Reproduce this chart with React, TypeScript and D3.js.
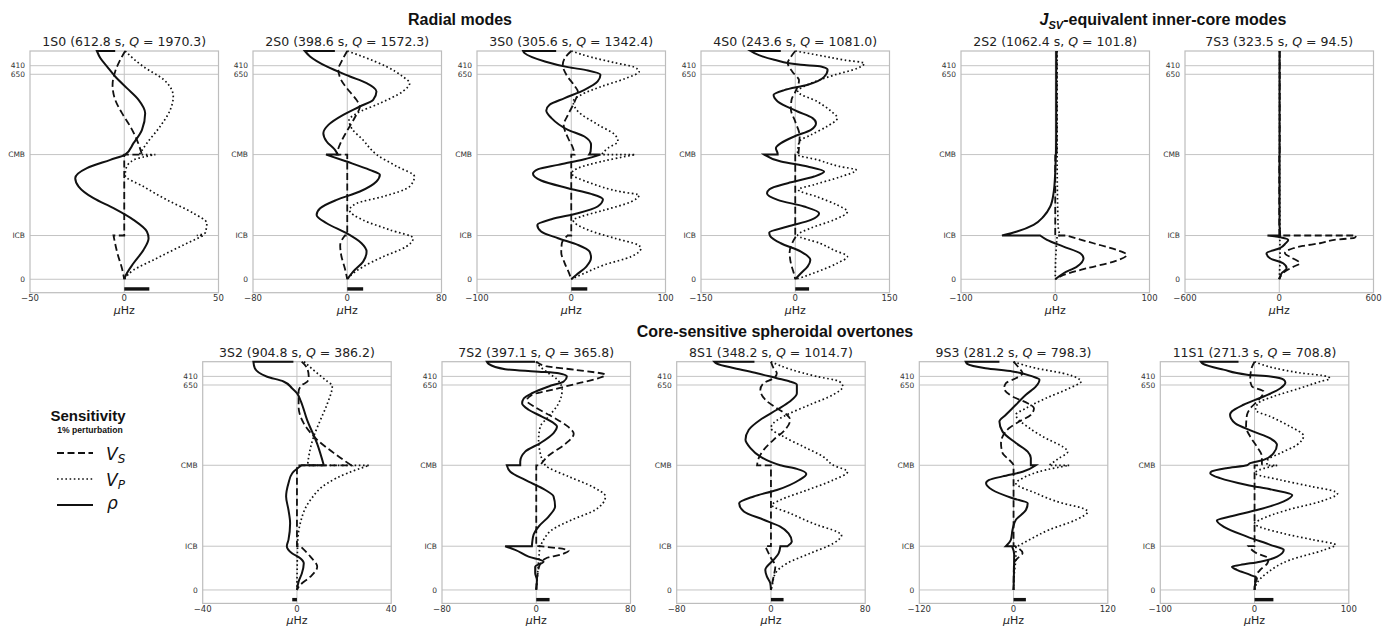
import React, { useEffect } from 'react'
import * as d3 from 'd3'

type Pt = [number, number] // [radius (km), sensitivity (µHz)]

// ---------- data ----------
const rho_1S0: Pt[] = [[6371,-4.8],[6371,-14.5],[6173,-12.7],[5940,-9.2],[5660,-4.8],[5335,1.4],[5009,7.6],[4636,11.1],[4171,9.4],[3798,4.9],[3480,0.5],[3333,-7.4],[3100,-19.8],[2821,-26],[2588,-24.2],[2262,-16.3],[1983,-5.7],[1657,4.9],[1331,12],[1145,12.9],[819,10.2],[447,4.9],[74,0.5],[0,0]]
const vs_1S0: Pt[] = [[6371,0.5],[6126,-2.1],[5800,-4.8],[5428,-6.2],[5009,-4.8],[4636,-1.2],[4264,3.2],[3892,6.7],[3480,9.4],[3480,0],[1221,0],[1221,-5.7],[700,-3.5],[300,-1.2],[0,0]]
const vp_1S0: Pt[] = [[6371,0.5],[6150,5],[5940,10],[5568,21],[5102,26],[4730,24.4],[4264,19],[3798,12],[3480,8],[3480,16.5],[3330,5],[3100,1],[2900,0.5],[2588,10.2],[2216,22.6],[1843,36.7],[1564,43.8],[1300,43],[1221,38.5],[1221,42],[912,29.7],[540,15.5],[261,5],[0,0]]

const rho_2S0: Pt[] = [[6371,-10.5],[6371,-36],[6219,-31.6],[5940,-17.5],[5660,2.3],[5474,16.4],[5241,24.8],[5009,22],[4822,10.7],[4590,-3.4],[4310,-16],[4078,-20.3],[3845,-17.5],[3612,-10.4],[3480,-8],[3480,-18],[3286,-0.6],[3054,19],[2914,27.7],[2728,24.8],[2449,10.7],[2216,-9],[1983,-23],[1797,-26],[1564,-17.5],[1285,-0.6],[1005,12.1],[773,16.4],[493,13.5],[214,5],[0,0]]
const vs_2S0: Pt[] = [[6371,0],[6100,-4.5],[5850,-7.6],[5550,-5],[5240,2],[5000,8],[4820,10.7],[4550,7],[4150,0],[3850,-5],[3550,-8.5],[3480,-9],[3480,0],[1221,0],[1221,-2],[950,-6],[650,-5],[300,-2],[0,0]]
const vp_2S0: Pt[] = [[6371,0],[6210,13.5],[5940,33],[5660,47],[5470,53],[5240,47],[4910,27.5],[4630,8],[4440,1.5],[4200,4],[3900,13],[3480,25],[3150,42],[2870,57],[2590,53],[2310,30.5],[2120,8],[1930,2],[1650,13.5],[1380,36],[1145,56],[910,50],[630,30.5],[350,13.5],[80,2],[0,0]]

const rho_3S0: Pt[] = [[6371,-16],[6371,-51],[6312,-49.5],[6080,-28],[5921,-3.5],[5828,17.7],[5707,31],[5521,28],[5288,14],[5055,-7],[4869,-23],[4711,-26.5],[4497,-21],[4171,-3.5],[3985,14],[3752,21],[3566,20.5],[3480,19],[3480,31],[3352,14],[3193,-14],[3072,-35],[2942,-40.6],[2756,-32],[2542,-3.5],[2383,21],[2234,33.6],[2030,28],[1843,7],[1676,-21],[1518,-36],[1331,-32],[1145,-14],[959,7],[773,19.4],[605,21],[354,16],[121,5.3],[0,0]]
const vs_3S0: Pt[] = [[6371,0],[6165,-7],[5980,-9],[5700,-5],[5400,3.5],[5240,7],[4950,3.5],[4590,-3.5],[4300,-8],[3950,-3.5],[3650,2],[3480,3.5],[3480,0],[1221,0],[1221,-4],[1000,-10],[750,-10.6],[450,-7],[150,-2],[0,0]]
const vp_3S0: Pt[] = [[6371,0],[6200,21],[6050,45],[5920,67],[5800,72],[5600,57],[5380,32],[5150,10.6],[4960,2],[4690,7],[4320,28],[4040,46],[3850,49.5],[3660,39],[3480,32],[3480,68],[3286,32],[3100,7],[2960,0.5],[2680,21],[2440,53],[2350,72],[2170,64],[1930,35],[1750,10.6],[1650,2],[1378,17.7],[1145,46],[959,70.7],[866,74],[633,63.6],[400,35],[168,14],[0,0]]

const rho_4S0: Pt[] = [[6371,-23],[6371,-71],[6312,-65],[6126,-33.5],[5986,9],[5940,41],[5847,51.5],[5650,46],[5430,20],[5280,-17.5],[5148,-34.5],[4962,-28],[4683,3.7],[4497,27.6],[4357,33],[4171,25],[3985,-1.6],[3798,-22.8],[3659,-30.8],[3500,-28],[3480,-28],[3480,-49.4],[3286,-22.8],[3147,19.6],[3007,46],[2867,30],[2681,-12],[2514,-41],[2402,-45],[2216,-28],[2030,14],[1843,38],[1657,25],[1471,-12],[1303,-41.4],[1210,-40],[1005,-23],[773,9],[540,24],[354,19.6],[168,9],[0,0]]
const vs_4S0: Pt[] = [[6371,0],[6180,-8],[6040,-12],[5780,-4],[5550,6],[5300,2],[5000,-6],[4750,-7],[4400,0],[4000,7],[3700,6],[3480,5],[3480,0],[1221,0],[1221,2],[1000,-5],[750,-9],[450,-7],[150,-2],[0,0]]
const vp_4S0: Pt[] = [[6371,0],[6260,35],[6120,78],[6030,110],[5890,99],[5700,62],[5470,25],[5240,4],[4960,35],[4690,57],[4500,67],[4270,51],[4030,25],[3845,6.4],[3480,3.7],[3333,35.6],[3150,70],[3050,97],[2860,72],[2640,30],[2500,5],[2300,35],[2070,67],[1890,83],[1660,62],[1430,25],[1230,4],[1000,40],[810,62],[633,83],[450,67],[210,35],[30,6],[0,0]]

const rho_2S2: Pt[] = [[6371,1],[4000,1],[3000,0],[2402,-1.8],[2030,-5.3],[1750,-12.4],[1518,-23],[1331,-40.6],[1221,-56.5],[1221,-16],[1099,-8.8],[912,8.8],[726,26.5],[587,30],[354,23],[168,8.8],[0,0]]
const vs_2S2: Pt[] = [[6371,1.5],[3480,1.5],[3480,0],[1221,0],[1221,12],[1120,25],[1005,40.6],[819,65],[680,76],[493,62],[307,33.6],[121,8.8],[0,0]]
const vp_2S2: Pt[] = [[6371,2],[3480,2],[1500,3],[1221,5],[1221,2],[600,0.5],[0,0]]

const rho_7S3: Pt[] = [[6371,2],[1500,2],[1300,5],[1221,5],[1221,-75],[1160,20],[1099,57],[1000,40],[866,4],[726,-81],[587,-59],[447,25],[307,47],[168,15],[0,0]]
const vs_7S3: Pt[] = [[6371,3],[3480,3],[3480,0],[1221,0],[1221,490],[1160,480],[1100,350],[1005,259],[930,150],[866,89],[726,36],[600,80],[447,132],[350,90],[214,36],[0,0]]
const vp_7S3: Pt[] = [[6371,2],[3480,2],[1221,5],[1221,3],[700,5],[0,0]]

const rho_3S2: Pt[] = [[6371,-1.5],[6371,-18.5],[6191,-17.9],[5958,-12.9],[5819,-5.7],[5633,-2.1],[5493,0],[5307,1.4],[4748,4.3],[4078,8.6],[3480,11.4],[3480,2],[3258,-2],[2979,-3.6],[2607,-4.6],[2234,-3.6],[1862,-2.9],[1397,-3.6],[1221,-4.3],[1024,-2.1],[884,1.4],[745,2.9],[465,2.1],[233,0.7],[0,0]]
const vs_3S2: Pt[] = [[6371,2],[6190,4.3],[5960,5],[5820,4.5],[5720,2.1],[5540,0.7],[5120,0.7],[4650,2.9],[4190,8.6],[3820,15.7],[3480,23],[3480,0],[1221,0],[1221,1.4],[930,5.7],[650,8.6],[370,5.7],[140,1.4],[0,0]]
const vp_3S2: Pt[] = [[6371,3],[6050,8.6],[5820,12.9],[5700,15],[5200,12.9],[4750,10],[4280,7.1],[3720,5],[3480,4.5],[3480,30.7],[3260,21.4],[2980,12.9],[2510,5.7],[1860,1.4],[1300,0.3],[0,0]]

const rho_7S2: Pt[] = [[6371,-1],[6371,-42],[6310,-40.5],[6163,-26.4],[6098,-1],[6051,19],[5958,26],[5820,23.3],[5680,10.5],[5490,-3.7],[5350,-10.5],[5210,-12],[5030,-6.5],[4840,4.8],[4660,14.7],[4560,17.6],[4380,14.7],[4100,3.4],[3860,-9.4],[3580,-13.6],[3480,-13.6],[3480,-25],[3300,-22],[3070,-9.4],[2790,7.7],[2610,14.7],[2330,16],[2050,10.5],[1770,2],[1540,-2.3],[1221,-3.7],[1221,-26.4],[1120,-17.9],[930,-6.5],[790,6.2],[650,-0.9],[470,-0.9],[280,0.6],[0,0]]
const vs_7S2: Pt[] = [[6371,0],[6250,8],[6145,33],[6005,58.7],[5912,53],[5772,36],[5586,13.3],[5446,-3.7],[5288,-8],[5102,-0.9],[4841,13.3],[4543,27.5],[4357,31.8],[4078,24.7],[3752,10.5],[3480,3.4],[3480,0],[1221,0],[1221,3],[1100,27.5],[1000,22],[880,8],[700,3],[400,1],[0,0]]
const vp_7S2: Pt[] = [[6371,0],[6230,3.4],[6050,10.5],[5870,17.9],[5590,22],[5210,19],[4840,10.5],[4560,3.4],[4190,2],[3820,3.4],[3480,7.7],[3165,27.5],[2886,47.4],[2607,58.7],[2234,50],[1955,30],[1676,13.3],[1397,6.2],[1221,3.4],[1221,3],[800,2],[0,0]]

const rho_8S1: Pt[] = [[6371,-14],[6371,-48],[6320,-46],[6190,-31],[6050,-11.8],[5910,5],[5820,16],[5730,22],[5490,22],[5260,16],[5030,5],[4750,-9],[4470,-18.8],[4190,-21.6],[3960,-17.4],[3720,-9],[3580,-0.6],[3480,7.9],[3380,22],[3240,30],[3070,24],[2790,5],[2610,-14.6],[2420,-27],[2190,-23],[1960,-6.2],[1770,7.9],[1580,14.9],[1350,17.7],[1221,14],[1221,8],[1020,6.5],[840,2.2],[560,-4.8],[370,-3.4],[190,-0.6],[0,0]]
const vs_8S1: Pt[] = [[6371,0],[6190,2.2],[6050,5],[5910,2.2],[5770,-6.2],[5590,-9],[5310,-4.8],[5070,5],[4890,13.5],[4750,16.3],[4470,12],[4190,2.2],[3910,-6.2],[3680,-10.4],[3480,-11.8],[3480,0],[1221,0],[1221,-4.8],[930,-0.6],[650,3.7],[370,2.2],[0,0]]
const vp_8S1: Pt[] = [[6371,0],[6160,16.3],[5960,38.8],[5820,58],[5680,61],[5450,52.8],[5170,33],[4890,13.5],[4660,2.2],[4520,0],[4280,10.7],[4000,27.5],[3720,44.4],[3480,53],[3300,65],[3070,53],[2790,30.9],[2510,7.9],[2370,0.8],[2140,16.3],[1820,38.8],[1630,55.6],[1540,60],[1300,53],[1020,33],[740,13.5],[460,3.7],[100,0.8],[0,0]]

const rho_9S3: Pt[] = [[6371,-18],[6371,-61],[6310,-59],[6190,-35.7],[6100,-1.3],[5960,24],[5870,33],[5680,28.5],[5450,15.7],[5170,3],[4890,-9.8],[4700,-18],[4420,-14],[4100,3],[3860,18],[3680,22],[3480,22],[3480,28.5],[3300,11.5],[3170,-14],[3070,-31],[2980,-35],[2790,-26.8],[2560,-1.3],[2420,18],[2230,15.7],[1960,3],[1680,-1.3],[1400,-3.4],[1221,-9.8],[1221,-2],[1000,0.8],[0,0]]
const vs_9S3: Pt[] = [[6371,0],[6190,7.2],[6050,11.5],[5910,3],[5770,-9.8],[5630,-12],[5400,-1.3],[5210,17.9],[5070,26],[4890,22],[4700,7.2],[4520,-5.5],[4280,-14],[4100,-16],[3820,-14],[3630,-5.5],[3480,0],[1221,0],[1221,2],[1030,11.5],[880,5],[750,0.5],[0,0]]
const vp_9S3: Pt[] = [[6371,0],[6190,28.5],[6050,62.5],[5910,81.7],[5820,86],[5630,71],[5350,41],[5070,15.7],[4890,3],[4520,20],[4190,45],[4000,62.5],[3860,69],[3680,58],[3480,45],[3480,71],[3350,41],[3120,11.5],[2980,3],[2700,28.5],[2420,62.5],[2280,88],[2190,94.5],[1960,79.6],[1680,45.5],[1400,20],[1221,5],[1221,3],[930,3],[470,1],[0,0]]

const rho_11S1: Pt[] = [[6371,-17],[6371,-57],[6310,-54.6],[6150,-33],[6010,-8],[5960,16.7],[5870,31],[5790,32.7],[5630,27.5],[5400,9.6],[5170,-11.7],[4980,-24.2],[4890,-26],[4650,-20.6],[4420,-1],[4230,16.7],[4050,23.8],[3820,20.2],[3630,9.6],[3540,-4.6],[3480,-8],[3400,-30],[3310,-45.5],[3260,-47],[3120,-36.6],[2930,-8],[2790,20.2],[2650,40],[2470,31],[2230,2.5],[2050,-26],[1940,-40],[1770,-33],[1490,-8],[1260,16.7],[1120,31],[930,24],[790,6],[700,-15],[650,-24],[560,-18.8],[420,-4.6],[330,2.5],[190,0.7],[0,0]]
const vs_11S1: Pt[] = [[6371,0],[6150,-3.6],[5870,-4.6],[5680,-2.8],[5540,9.6],[5300,4.3],[5120,-2.8],[4890,-8],[4560,-9],[4280,-4.6],[4000,2.5],[3720,7.8],[3500,7.8],[3480,7],[3480,0],[1221,0],[1221,-6.4],[1020,2.5],[880,15],[740,13.5],[560,6],[370,1],[0,0]]
const vp_11S1: Pt[] = [[6371,0],[6200,20],[6060,48],[5960,77],[5900,80],[5820,70],[5630,48],[5400,20],[5220,4],[5020,1],[4840,16.7],[4560,38],[4300,52],[4050,45],[3820,27.5],[3630,14],[3480,13],[3480,24],[3350,5],[3260,0.5],[3070,27.5],[2890,60],[2750,85],[2700,88],[2470,70],[2230,34.5],[1960,6],[1860,0],[1580,30],[1400,62],[1260,86],[1120,74],[840,38],[470,13],[190,2.5],[0,0]]

// mode labels
const modeNames = ['1S0', '2S0', '3S0', '4S0', '2S2', '7S3', '3S2', '7S2', '8S1', '9S3', '11S1']
const periods = ['612.8', '398.6', '305.6', '243.6', '1062.4', '323.5', '904.8', '397.1', '348.2', '281.2', '271.3']
const qValues = ['1970.3', '1572.3', '1342.4', '1081.0', '101.8', '94.5', '386.2', '365.8', '1014.7', '798.3', '708.8']
const axisLimits = [50, 80, 100, 150, 100, 600, 40, 80, 80, 120, 100]
const freqShifts = [13.3, 13.5, 17, 22, 0, 0, -2, 11.3, 10.7, 15.7, 20]
const rhoData = [rho_1S0, rho_2S0, rho_3S0, rho_4S0, rho_2S2, rho_7S3, rho_3S2, rho_7S2, rho_8S1, rho_9S3, rho_11S1]
const vsData = [vs_1S0, vs_2S0, vs_3S0, vs_4S0, vs_2S2, vs_7S3, vs_3S2, vs_7S2, vs_8S1, vs_9S3, vs_11S1]
const vpData = [vp_1S0, vp_2S0, vp_3S0, vp_4S0, vp_2S2, vp_7S3, vp_3S2, vp_7S2, vp_8S1, vp_9S3, vp_11S1]

const boundaryLabels = ['410', '650', 'CMB', 'ICB', '0']
const boundaryRadii = [5961, 5721, 3480, 1221, 0]

// ---------- layout ----------
const W = 1390
const H = 628
const PW = 188.5
const PH = 241.7
const R_TOP = 6371
const R_BOTTOM = -375
const BAR_R = -270
const topRowLefts = [30, 253, 477, 701, 961, 1185]
const bottomRowLefts = [202.7, 442, 676.7, 919.3, 1160.3]
const TOP_Y = 51
const BOTTOM_Y = 361.7

const grid = '#c4c4c4'
const ink = '#111'

function buildPath(pts: Pt[], line: d3.Line<Pt>) {
  const segs: Pt[][] = []
  let cur: Pt[] = []
  pts.forEach((p, i) => {
    if (i > 0 && p[0] === pts[i - 1][0]) { segs.push(cur); cur = [] }
    cur.push(p)
  })
  segs.push(cur)
  return segs.map((s, k) => {
    const d = (line(s) || '').replace(/Z/g, '')
    return k === 0 ? d : 'L' + d.slice(1)
  }).join('')
}

const fmt = (v: number) => (v < 0 ? '\u2212' + Math.abs(v) : String(v))

const Panel = ({ idx, left, top }: { idx: number; left: number; top: number }) => {
  const lim = axisLimits[idx]
  const x = d3.scaleLinear().domain([-lim, lim]).range([left, left + PW])
  const y = d3.scaleLinear().domain([R_TOP, R_BOTTOM]).range([top, top + PH])
  const line = d3.line<Pt>().x(d => x(d[1])).y(d => y(d[0])).curve(d3.curveMonotoneY)
  const shift = freqShifts[idx]
  const cx = x(0)
  return (
    <g>
      {boundaryRadii.map((r, i) => (
        <g key={i}>
          <line x1={left} x2={left + PW} y1={y(r)} y2={y(r)} stroke={grid} strokeWidth={1} />
          <text x={left - 5} y={y(r)} dy="0.35em" textAnchor="end" fontSize={7.5} fill="#333" fontFamily="DejaVu Sans">{boundaryLabels[i]}</text>
        </g>
      ))}
      <line x1={cx} x2={cx} y1={top} y2={top + PH} stroke={grid} strokeWidth={1} />
      <rect x={left} y={top} width={PW} height={PH} fill="none" stroke="#bdbdbd" strokeWidth={1.2} />
      <path d={buildPath(vpData[idx], line)} fill="none" stroke={ink} strokeWidth={1.7} strokeDasharray="1.6,2.6" />
      <path d={buildPath(vsData[idx], line)} fill="none" stroke={ink} strokeWidth={1.8} strokeDasharray="7,3.5" />
      <path d={buildPath(rhoData[idx], line)} fill="none" stroke={ink} strokeWidth={2} />
      <rect x={Math.min(x(0), x(shift))} y={y(BAR_R) - 1.7} width={Math.abs(x(shift) - x(0))} height={3.4} fill={ink} />
      {[-lim, 0, lim].map(t => (
        <text key={t} x={x(t)} y={top + PH + 8.5} textAnchor="middle" fontSize={8.5} fill="#333" fontFamily="DejaVu Sans">{fmt(t)}</text>
      ))}
      <text x={cx} y={top + PH + 21} textAnchor="middle" fontSize={11} fill="#222" fontFamily="DejaVu Sans">
        <tspan fontStyle="italic">μ</tspan>Hz
      </text>
      <text x={left + PW / 2} y={top - 5} textAnchor="middle" fontSize={12.5} fill="#222" fontFamily="DejaVu Sans">
        {modeNames[idx]} ({periods[idx]} s, <tspan fontStyle="italic">Q</tspan> = {qValues[idx]})
      </text>
    </g>
  )
}

const Legend = () => {
  const lx0 = 57
  const lx1 = 93
  return (
    <g fontFamily="Liberation Sans, Arial, sans-serif">
      <text x={88} y={421} textAnchor="middle" fontSize={15} fontWeight="bold" fill="#111">Sensitivity</text>
      <text x={90} y={433} textAnchor="middle" fontSize={8.6} fontWeight="bold" fill="#111">1% perturbation</text>
      <line x1={lx0} x2={lx1} y1={453} y2={453} stroke={ink} strokeWidth={1.8} strokeDasharray="7,3.5" />
      <line x1={lx0} x2={lx1} y1={479} y2={479} stroke={ink} strokeWidth={1.7} strokeDasharray="1.6,2.6" />
      <line x1={lx0} x2={lx1} y1={505} y2={505} stroke={ink} strokeWidth={2} />
      <text x={106} y={460} fontSize={17} fontStyle="italic" fontFamily="DejaVu Sans" fill="#111">V<tspan fontSize={12} dy={3}>S</tspan></text>
      <text x={106} y={486} fontSize={17} fontStyle="italic" fontFamily="DejaVu Sans" fill="#111">V<tspan fontSize={12} dy={3}>P</tspan></text>
      <text x={107} y={509} fontSize={17} fontStyle="italic" fontFamily="DejaVu Sans" fill="#111">ρ</text>
    </g>
  )
}

export default function App() {
  useEffect(() => {
    document.body.style.margin = '0'
  }, [])
  return (
    <svg width={W} height={H} style={{ display: 'block', background: '#fff' }}>
      <g fontFamily="Liberation Sans, Arial, sans-serif" fontWeight="bold" fill="#111" fontSize={16} textAnchor="middle">
        <text x={460} y={25}>Radial modes</text>
        <text x={1163} y={25}>
          <tspan fontStyle="italic">J</tspan><tspan fontStyle="italic" fontSize={11} dy={4}>SV</tspan><tspan dy={-4}>-equivalent inner-core modes</tspan>
        </text>
        <text x={775} y={337}>Core-sensitive spheroidal overtones</text>
      </g>
      {topRowLefts.map((l, i) => <Panel key={modeNames[i]} idx={i} left={l} top={TOP_Y} />)}
      {bottomRowLefts.map((l, i) => <Panel key={modeNames[i + 6]} idx={i + 6} left={l} top={BOTTOM_Y} />)}
      <Legend />
    </svg>
  )
}
